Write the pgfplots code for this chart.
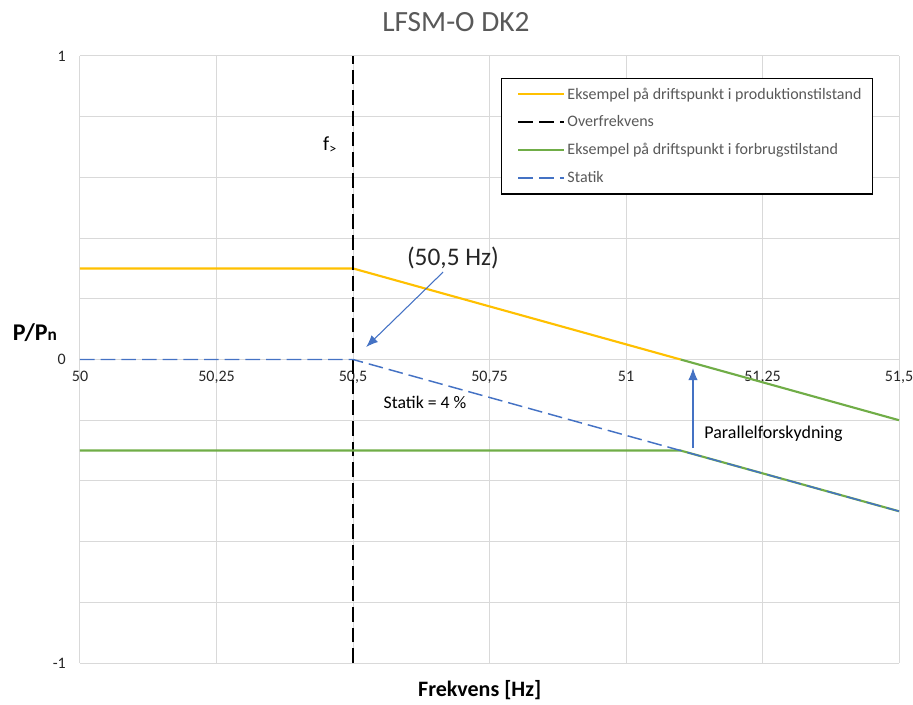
\documentclass[border=0pt]{standalone}
\usepackage{fontspec}
\setmainfont{Carlito}
\usepackage{pgfplots}
\pgfplotsset{compat=1.18}
\usetikzlibrary{arrows.meta}
\definecolor{cyellow}{HTML}{FFC000}
\definecolor{cgreen}{HTML}{70AD47}
\definecolor{cblue}{HTML}{4472C4}
\definecolor{cgrid}{HTML}{D9D9D9}
\definecolor{ctext}{HTML}{595959}
\definecolor{cdark}{HTML}{262626}
\begin{document}
\begin{tikzpicture}
\begin{axis}[
  at={(0,0)}, anchor=south west,
  scale only axis, width=614.25pt, height=455.25pt,
  xmin=50, xmax=51.5, ymin=-1, ymax=1,
  axis x line=middle, axis y line=left,
  axis line style={draw=none,-},
  tick style={draw=none},
  hide obscured x ticks=false,
  xtick={50,50.25,50.5,50.75,51,51.25,51.5},
  xticklabels={50,{50,25},{50,5},{50,75},51,{51,25},{51,5}},
  ytick={-1,-0.8,-0.6,-0.4,-0.2,0,0.2,0.4,0.6,0.8,1},
  yticklabels={-1,,,,,0,,,,,1},
  /pgf/number format/assume math mode=true,
  ticklabel style={font=\fontsize{12}{14}\selectfont, text=cdark},
  xticklabel style={yshift=-3pt},
  yticklabel style={xshift=-5pt},
  grid=major, grid style={cgrid, line width=0.75pt},
  clip=false,
  legend style={at={(0.968,0.964)}, anchor=north east, draw=black, line width=0.9pt,
    font=\fontsize{12}{14}\selectfont, text=ctext, row sep=7pt,
    inner xsep=6pt, inner ysep=5pt, cells={anchor=west}},
  legend image post style={line width=1.5pt},
  legend image code/.code={\path (-6pt,0pt); \draw[#1] (0pt,0pt) -- (34pt,0pt);},
]
\addplot[cyellow, line width=1.6pt] coordinates {(50,0.3) (50.5,0.3) (51.1,0)};
\addlegendentry{Eksempel på driftspunkt i produktionstilstand}
\addplot[black, line width=1pt, dash pattern=on 11pt off 4.5pt] coordinates {(50.5,-1) (50.5,1)};
\addlegendentry{Overfrekvens}
\addplot[cgreen, line width=1.6pt] coordinates {(50,-0.3) (51.1,-0.3) (51.5,-0.5)};
\addlegendentry{Eksempel på driftspunkt i forbrugstilstand}
\addplot[cgreen, line width=1.6pt, forget plot] coordinates {(51.1,0) (51.5,-0.2)};
\addplot[cblue, line width=1.1pt, dash pattern=on 11pt off 4.5pt] coordinates {(50,0) (50.5,0) (51.5,-0.5)};
\addlegendentry{Statik}
\draw[cblue, line width=0.8pt, -{Latex[length=9pt,width=7pt]}] (axis cs:50.665,0.288) -- (axis cs:50.524,0.041);
\draw[cblue, line width=0.8pt, -{Latex[length=9pt,width=7pt]}] (axis cs:51.1227,-0.2916) -- (axis cs:51.1227,-0.028);
\node[font=\fontsize{15}{17}\selectfont] at (axis cs:50.458,0.707) {f\textsubscript{>}};
\node[font=\fontsize{19}{21}\selectfont, text=cdark] at (axis cs:50.683,0.334) {(50,5 Hz)};
\node[font=\fontsize{13.3}{15}\selectfont] at (axis cs:50.632,-0.143) {Statik = 4 \%};
\node[font=\fontsize{13.5}{15}\selectfont, anchor=west] at (axis cs:51.135,-0.245) {Parallelforskydning};
\node[font=\fontsize{22}{24}\selectfont, text=ctext] at (rel axis cs:0.459,1.056) {LFSM-O DK2};
\node[font=\bfseries\fontsize{16.5}{18}\selectfont] at (rel axis cs:0.488,-0.045) {Frekvens [Hz]};
\node[font=\bfseries\fontsize{18}{20}\selectfont] at (rel axis cs:-0.055,0.545) {P/P{\fontsize{13}{15}\selectfont n}};
\end{axis}
\pgfresetboundingbox
\path (-60pt,-30.75pt) rectangle (624.75pt,497.25pt);
\end{tikzpicture}
\end{document}
